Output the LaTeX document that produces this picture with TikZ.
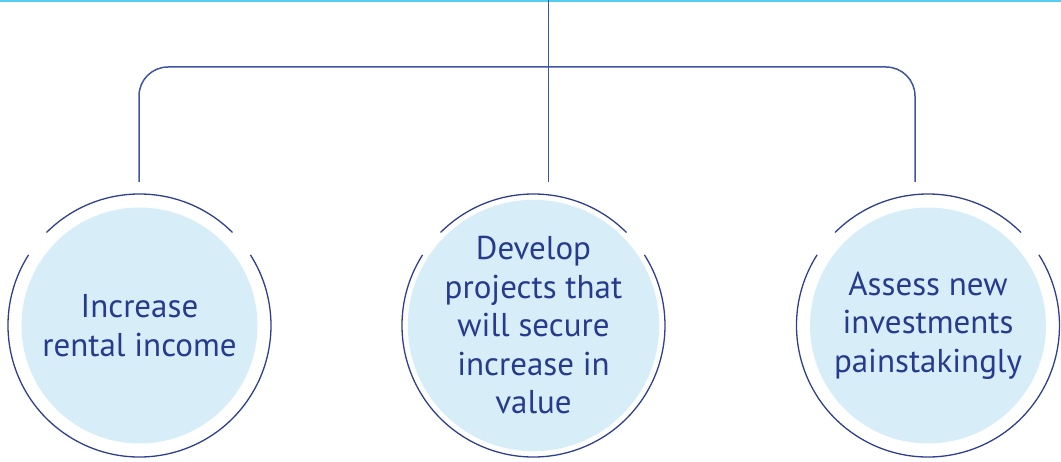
\documentclass[tikz,border=0pt]{standalone}
\usepackage{fontspec}
\setmainfont{PT Sans}
\definecolor{navy}{HTML}{263B8E}
\definecolor{ringc}{HTML}{2E3F91}
\definecolor{connc}{HTML}{3F55A2}
\definecolor{fillc}{HTML}{D7EEF8}
\definecolor{topc}{HTML}{55CDEF}
\tikzset{
  goal/.style={circle, fill=fillc, minimum size=236pt, inner sep=0pt, align=center,
    text=navy, font=\fontsize{33}{38.5}\selectfont},
  ring/.style={draw=ringc, line width=1.3pt},
  conn/.style={draw=connc, line width=1.5pt},
  topline/.style={draw=topc, line width=2pt}
}
\newcommand{\ringarcs}[1]{%
  \draw[ring] ([shift={(45:131.5pt)}]#1.center) arc[start angle=45, end angle=135, radius=131.5pt];
  \draw[ring] ([shift={(147.5:131.5pt)}]#1.center) arc[start angle=147.5, end angle=392.5, radius=131.5pt];
}
\begin{document}
\begin{tikzpicture}[x=1pt,y=1pt]
\useasboundingbox (0,0) rectangle (1061,-462);
% top cyan line
\coordinate (tl) at (0,-1);
\coordinate (tr) at (1061,-1);
\draw[topline] (tl) -- (tr);
% goals
\node[goal] (g1) at (139.5,-325.5) {Increase\\rental income};
\node[goal] (g2) at (533.5,-325.5) {Develop\\projects that\\will secure\\increase in\\value};
\node[goal] (g3) at (928,-325.5) {Assess new\\investments\\painstakingly};
\ringarcs{g1}
\ringarcs{g2}
\ringarcs{g3}
% connectors
\coordinate (ctop) at (548.7,0);
\coordinate (cmid) at (548.7,-182);
\coordinate (cl) at (139,-182);
\coordinate (cr) at (915,-182);
\coordinate (bar) at (0,-67);
\draw[conn] (ctop) -- (cmid);
\draw[conn, rounded corners=29pt] (cl) |- (bar -| cr) -- (cr);
\end{tikzpicture}
\end{document}
